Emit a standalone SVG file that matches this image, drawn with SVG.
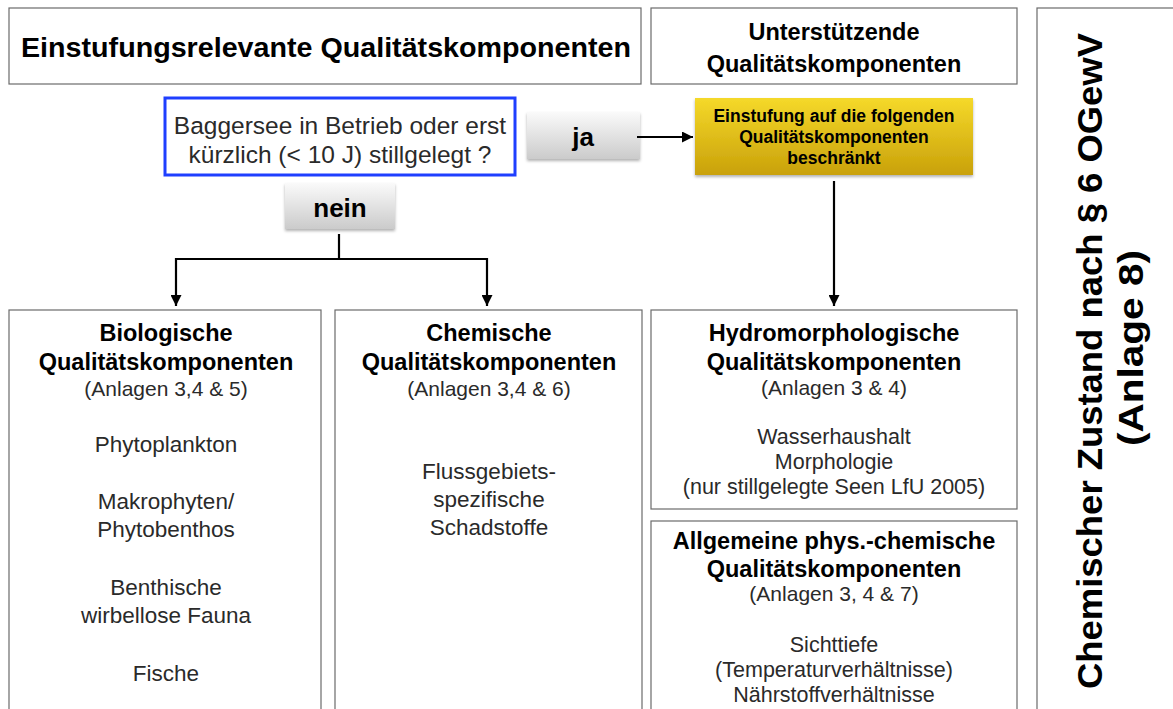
<svg xmlns="http://www.w3.org/2000/svg" width="1173" height="709" viewBox="0 0 1173 709">
  <style>
    .box { fill: #ffffff; stroke: #6b6b6b; stroke-width: 1.2; }
    .h { font-family: "Liberation Sans", Arial, sans-serif; font-weight: bold; fill: #000; text-anchor: middle; }
    .l { font-family: "Liberation Sans", Arial, sans-serif; font-weight: normal; fill: #2a2a2a; text-anchor: middle; }
    .conn { fill: none; stroke: #000; stroke-width: 2.2; }
  </style>
  <defs>
    <linearGradient id="btn" x1="0" y1="0" x2="0" y2="1">
      <stop offset="0" stop-color="#fafafa"/>
      <stop offset="1" stop-color="#cbcbcb"/>
    </linearGradient>
    <linearGradient id="gold" x1="0" y1="0" x2="0" y2="1">
      <stop offset="0" stop-color="#f5d92a"/>
      <stop offset="1" stop-color="#c9a10a"/>
    </linearGradient>
    <filter id="shadow" x="-10%" y="-10%" width="120%" height="130%">
      <feDropShadow dx="0" dy="2" stdDeviation="1.5" flood-color="#000" flood-opacity="0.3"/>
    </filter>
    <marker id="arrow" viewBox="0 0 10 10" refX="10" refY="5" markerWidth="5" markerHeight="5" orient="auto" markerUnits="strokeWidth">
      <path d="M0,0 L10,5 L0,10 z" fill="#000"/>
    </marker>
  </defs>

  <g id="title-left">
    <rect class="box" x="9" y="8" width="632" height="76"/>
    <text class="h" x="326" y="57" font-size="28.5" textLength="610" lengthAdjust="spacingAndGlyphs">Einstufungsrelevante Qualitätskomponenten</text>
  </g>

  <g id="title-middle">
    <rect class="box" x="651" y="8" width="366" height="76"/>
    <text class="h" x="834" y="40" font-size="23.5">Unterstützende</text>
    <text class="h" x="834" y="72" font-size="23.5">Qualitätskomponenten</text>
  </g>

  <g id="chemischer-zustand">
    <rect class="box" x="1037" y="8" width="160" height="720"/>
    <text class="h" transform="translate(1102,361) rotate(-90)" x="0" y="0" font-size="35" textLength="656" lengthAdjust="spacingAndGlyphs">Chemischer Zustand  nach § 6 OGewV</text>
    <text class="h" transform="translate(1143,348) rotate(-90)" x="0" y="0" font-size="35" textLength="196" lengthAdjust="spacingAndGlyphs">(Anlage 8)</text>
  </g>

  <g id="frage">
    <rect x="165" y="98" width="350" height="77" fill="#fff" stroke="#1f3fff" stroke-width="3"/>
    <text class="l" x="340" y="134" font-size="24.5">Baggersee in Betrieb oder erst</text>
    <text class="l" x="340" y="163" font-size="24.5">kürzlich (&lt; 10 J) stillgelegt ?</text>
  </g>

  <g id="ja">
    <rect x="527" y="112" width="113" height="47" fill="url(#btn)" filter="url(#shadow)"/>
    <text class="h" x="583" y="146" font-size="26">ja</text>
  </g>

  <g id="nein">
    <rect x="285" y="183" width="110" height="46" fill="url(#btn)" filter="url(#shadow)"/>
    <text class="h" x="340" y="217" font-size="26">nein</text>
  </g>

  <g id="einstufung">
    <rect x="695" y="98" width="278" height="77" fill="url(#gold)" filter="url(#shadow)"/>
    <text class="h" x="834" y="122" font-size="17.5">Einstufung auf die folgenden</text>
    <text class="h" x="834" y="143" font-size="17.5">Qualitätskomponenten</text>
    <text class="h" x="834" y="164" font-size="17.5">beschränkt</text>
  </g>

  <g id="biologische">
    <rect class="box" x="9" y="310" width="312" height="420"/>
    <text class="h" x="166" y="341" font-size="23.5">Biologische</text>
    <text class="h" x="166" y="370" font-size="23.5">Qualitätskomponenten</text>
    <text class="l" x="166" y="396" font-size="21">(Anlagen 3,4 &amp; 5)</text>
    <text class="l" x="166" y="452" font-size="22.5">Phytoplankton</text>
    <text class="l" x="166" y="509" font-size="22.5">Makrophyten/</text>
    <text class="l" x="166" y="537" font-size="22.5">Phytobenthos</text>
    <text class="l" x="166" y="595" font-size="22.5">Benthische</text>
    <text class="l" x="166" y="623" font-size="22.5">wirbellose Fauna</text>
    <text class="l" x="166" y="681" font-size="22.5">Fische</text>
  </g>

  <g id="chemische">
    <rect class="box" x="335" y="310" width="307" height="420"/>
    <text class="h" x="489" y="341" font-size="23.5">Chemische</text>
    <text class="h" x="489" y="370" font-size="23.5">Qualitätskomponenten</text>
    <text class="l" x="489" y="396" font-size="21">(Anlagen 3,4 &amp; 6)</text>
    <text class="l" x="489" y="479" font-size="22.5">Flussgebiets-</text>
    <text class="l" x="489" y="507" font-size="22.5">spezifische</text>
    <text class="l" x="489" y="535" font-size="22.5">Schadstoffe</text>
  </g>

  <g id="hydromorphologische">
    <rect class="box" x="651" y="310" width="366" height="199"/>
    <text class="h" x="834" y="341" font-size="23.5">Hydromorphologische</text>
    <text class="h" x="834" y="370" font-size="23.5">Qualitätskomponenten</text>
    <text class="l" x="834" y="395" font-size="21">(Anlagen 3 &amp; 4)</text>
    <text class="l" x="834" y="444" font-size="21.5">Wasserhaushalt</text>
    <text class="l" x="834" y="469" font-size="21.5">Morphologie</text>
    <text class="l" x="834" y="494" font-size="21.5">(nur stillgelegte Seen LfU 2005)</text>
  </g>

  <g id="allgemeine">
    <rect class="box" x="651" y="521" width="366" height="210"/>
    <text class="h" x="834" y="549" font-size="23.5">Allgemeine phys.-chemische</text>
    <text class="h" x="834" y="577" font-size="23.5">Qualitätskomponenten</text>
    <text class="l" x="834" y="601" font-size="21">(Anlagen 3, 4 &amp; 7)</text>
    <text class="l" x="834" y="652" font-size="21.5">Sichttiefe</text>
    <text class="l" x="834" y="677" font-size="21.5">(Temperaturverhältnisse)</text>
    <text class="l" x="834" y="702" font-size="21.5">Nährstoffverhältnisse</text>
  </g>

  <g id="connectors">
    <line class="conn" x1="637" y1="137" x2="693" y2="137" marker-end="url(#arrow)"/>
    <line class="conn" x1="834" y1="181" x2="834" y2="306" marker-end="url(#arrow)"/>
    <line class="conn" x1="339" y1="234" x2="339" y2="259"/>
    <path class="conn" d="M339,259 L176,259 L176,306" marker-end="url(#arrow)"/>
    <path class="conn" d="M339,259 L487,259 L487,306" marker-end="url(#arrow)"/>
  </g>
</svg>
